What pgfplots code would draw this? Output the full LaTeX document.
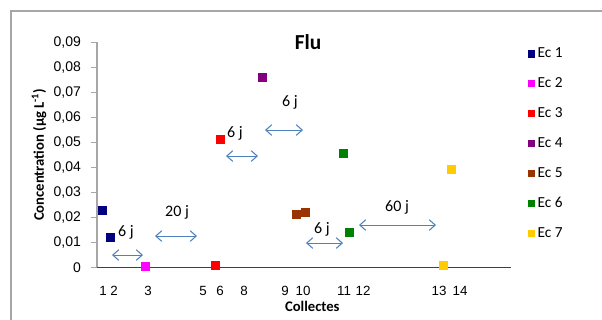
\documentclass[border=0pt]{standalone}
\usepackage{pgfplots}
\pgfplotsset{compat=1.18}
\usepackage{fontspec}
\setmainfont{Carlito}
\newfontfamily\arial{Liberation Sans}
\usetikzlibrary{arrows.meta}
\definecolor{ec1}{HTML}{000080}
\definecolor{ec2}{HTML}{FF00FF}
\definecolor{ec3}{HTML}{FF0000}
\definecolor{ec4}{HTML}{800080}
\definecolor{ec5}{HTML}{993300}
\definecolor{ec6}{HTML}{008000}
\definecolor{ec7}{HTML}{FFCC00}
\definecolor{arr}{HTML}{4F81BD}
\begin{document}
\begin{tikzpicture}
% outer chart frame
\draw[draw=gray!70, line width=1.1pt] (8.25pt,-8.25pt) rectangle (470pt,-260pt);
\begin{axis}[
    at={(72.75pt,-200.475pt)}, anchor=south west,
    scale only axis,
    width=310.5pt, height=168.75pt,
    xmin=97, xmax=511, ymin=0, ymax=0.09,
    axis lines=left,
    axis line style={-},
    x axis line style={draw=black!75, line width=0.8pt},
    y axis line style={draw=gray!70, line width=0.8pt},
    xtick={103,114,148,203,220,244,285,303,344,363,439,460},
    xticklabels={1,2,3,5,6,8,9,10,11,12,13,14},
    xtick style={draw=none},
    xticklabel style={font=\arial\fontsize{10}{12}\selectfont, anchor=center, yshift=-13pt},
    scaled y ticks=false,
    ytick={0,0.01,0.02,0.03,0.04,0.05,0.06,0.07,0.08,0.09},
    yticklabels={0,{0,01},{0,02},{0,03},{0,04},{0,05},{0,06},{0,07},{0,08},{0,09}},
    yticklabel style={font=\arial\fontsize{10.5}{12}\selectfont, xshift=-4pt},
    ytick style={draw=gray!70, line width=0.8pt},
    tick align=outside,
    major tick length=4.5pt,
    ylabel={\bfseries Concentration (µg L\textsuperscript{-1})},
    ylabel style={at={(axis description cs:-0.14,0.5)}, anchor=center, font=\fontsize{11}{13}\selectfont},
    xlabel={\bfseries Collectes},
    xlabel style={at={(axis description cs:0.52,-0.175)}, anchor=center, font=\fontsize{11}{13}\selectfont},
    clip=false,
    legend style={at={(axis description cs:1.03,1.0)}, anchor=north west,
        draw=none, fill=none, font=\fontsize{11.5}{13}\selectfont, row sep=9.5pt},
    legend cell align=left,
    legend image code/.code={\node[fill, draw=none, inner sep=0pt, minimum size=5.5pt] at (0.18cm,0) {};},
    every axis plot/.append style={only marks, mark=square*, mark size=3pt},
]
\addplot[color=ec1] coordinates {(102,0.0229) (110,0.0120)};
\addlegendentry{Ec 1}
\addplot[color=ec2] coordinates {(145,0.0005)};
\addlegendentry{Ec 2}
\addplot[color=ec3] coordinates {(215,0.0008) (220,0.0513)};
\addlegendentry{Ec 3}
\addplot[color=ec4] coordinates {(262,0.0761)};
\addlegendentry{Ec 4}
\addplot[color=ec5] coordinates {(296,0.0212) (305,0.0221)};
\addlegendentry{Ec 5}
\addplot[color=ec6] coordinates {(343,0.0457) (349,0.0142)};
\addlegendentry{Ec 6}
\addplot[color=ec7] coordinates {(443,0.0008) (451,0.0393)};
\addlegendentry{Ec 7}

% title
\node[font=\bfseries\fontsize{16}{18}\selectfont] at (axis cs:308,0.0901) {Flu};

% interval arrows
\begin{scope}[draw=arr, line width=0.8pt, {Straight Barb[length=4.5pt,width=8pt]}-{Straight Barb[length=4.5pt,width=8pt]}]
\draw (axis cs:112,0.0049) -- (axis cs:143,0.0049);
\draw (axis cs:155,0.0125) -- (axis cs:197,0.0125);
\draw (axis cs:226,0.0445) -- (axis cs:258,0.0445);
\draw (axis cs:265,0.0549) -- (axis cs:303,0.0549);
\draw (axis cs:306,0.0097) -- (axis cs:343,0.0097);
\draw (axis cs:359,0.0169) -- (axis cs:436,0.0169);
\end{scope}
\begin{scope}[every node/.style={font=\fontsize{12}{14}\selectfont}]
\node at (axis cs:126,0.0141) {6 j};
\node at (axis cs:177,0.0221) {20 j};
\node at (axis cs:235,0.0537) {6 j};
\node at (axis cs:290,0.0661) {6 j};
\node at (axis cs:322,0.0153) {6 j};
\node at (axis cs:397,0.0241) {60 j};
\end{scope}
\end{axis}
\pgfresetboundingbox
\useasboundingbox (0,0) rectangle (451.5pt,-240pt);
\end{tikzpicture}
\end{document}
